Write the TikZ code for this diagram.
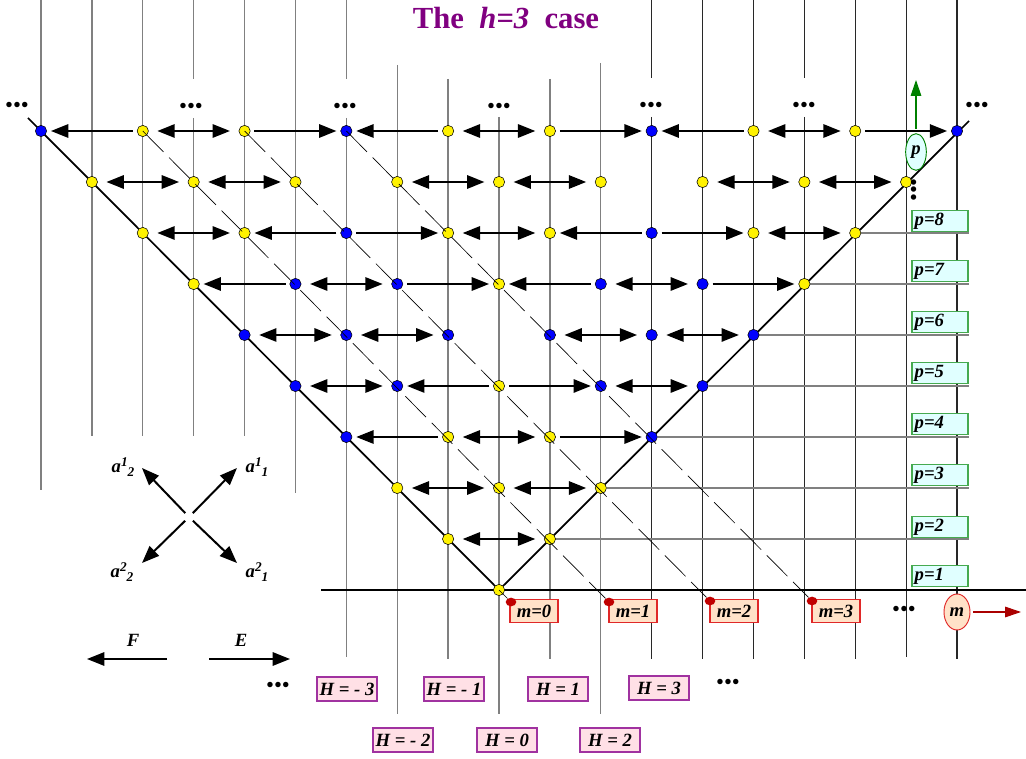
\documentclass[tikz,border=0pt]{standalone}
\usepackage{fontspec}
\setmainfont{Liberation Serif}
\usetikzlibrary{arrows.meta,shapes.geometric,backgrounds}
\definecolor{ttlpurple}{RGB}{128,0,128}
\definecolor{gridgray}{RGB}{128,128,128}
\definecolor{griddark}{RGB}{40,40,40}
\definecolor{pfill}{RGB}{224,255,255}
\definecolor{pborder}{RGB}{70,170,80}
\definecolor{pgreen}{RGB}{0,128,0}
\definecolor{mfill}{RGB}{255,226,200}
\definecolor{mborder}{RGB}{224,40,40}
\definecolor{hfill}{RGB}{255,224,230}
\definecolor{hborder}{RGB}{160,50,160}
\definecolor{dotred}{RGB}{192,0,0}
\definecolor{mred}{RGB}{170,0,0}
\newcommand{\ascr}[2]{a\raisebox{0.7ex}{\fontsize{10}{10}\selectfont #1}\raisebox{-0.5ex}{\fontsize{10}{10}\selectfont #2}}

\begin{document}
\begin{tikzpicture}[x=0.75pt,y=-0.75pt,
		ynode/.style={circle,draw=black,line width=0.4pt,fill=yellow,inner sep=0pt,minimum size=8.5pt},
		bnode/.style={ynode,fill=blue},
		sarr/.style={-{Triangle[length=13pt,width=10pt]},line width=1.5pt,shorten <=3pt,shorten >=3pt},
		darr/.style={{Triangle[length=13pt,width=10pt]}-{Triangle[length=13pt,width=10pt]},line width=1.5pt,shorten <=6.5pt,shorten >=6.5pt},
		lgrid/.style={draw=gridgray,line width=1pt},
		rgrid/.style={draw=griddark,line width=0.8pt},
		pline/.style={draw=gridgray,line width=1pt},
		arm/.style={line width=1.3pt},
		diag/.style={line width=0.5pt,dash pattern=on 22pt off 6pt},
		lbl/.style={font=\fontsize{14}{16}\selectfont\bfseries\itshape},
		pbox/.style={lbl,draw=pborder,fill=pfill,line width=0.8pt,inner xsep=2pt,inner ysep=0pt,text width=38pt,minimum height=16pt,align=left},
		mbox/.style={lbl,draw=mborder,fill=mfill,line width=0.8pt,inner sep=1pt,minimum width=36pt,minimum height=17pt},
		hbox/.style={lbl,draw=hborder,fill=hfill,line width=0.8pt,inner sep=1pt,minimum width=45pt,minimum height=18pt},
		reddot/.style={ellipse,fill=dotred,inner sep=0pt,minimum width=8pt,minimum height=6.5pt},
		pell/.style={lbl,ellipse,draw=pgreen,fill=pfill,line width=0.7pt,inner sep=0pt,minimum width=15.5pt,minimum height=27.5pt},
		mell/.style={lbl,ellipse,draw=mborder,fill=mfill,line width=0.7pt,inner sep=0pt,minimum width=19.5pt,minimum height=27pt},
		parr/.style={-{Triangle[length=12pt,width=8pt]},draw=pgreen,fill=pgreen,line width=0.8pt,shorten <=3.5pt},
		marr/.style={-{Triangle[length=12pt,width=8pt]},draw=mred,fill=mred,line width=0.8pt,shorten <=2pt},
		dotrow/.style={font=\fontsize{17}{17}\selectfont,inner sep=0pt},
		ttl/.style={font=\fontsize{23}{26}\selectfont\bfseries,text=ttlpurple},
	]
	\useasboundingbox (0,0) rectangle (1026,759);
	\foreach \r/\c in {0/0,0/6,0/12,0/18,2/6,2/12,3/5,3/7,3/11,3/13,4/4,4/6,4/8,4/10,4/12,4/14,5/5,5/7,5/11,5/13,6/6,6/12}
		\node[bnode] (n\r-\c) at ({41+50.89*\c},{131+51*\r}) {};
	\foreach \r/\c in {0/2,0/4,0/8,0/10,0/14,0/16,1/1,1/3,1/5,1/7,1/9,1/11,1/13,1/15,1/17,2/2,2/4,2/8,2/10,2/14,2/16,3/3,3/9,3/15,5/9,6/8,6/10,7/7,7/9,7/11,8/8,8/10,9/9}
		\node[ynode] (n\r-\c) at ({41+50.89*\c},{131+51*\r}) {};

	\node[ttl] (title) at (506,18) {The~~\textit{h=3}~~case};

	\node[pbox] (p8) at (940,221) {p=8};
	\node[pbox] (p7) at (940,271) {p=7};
	\node[pbox] (p6) at (940,322) {p=6};
	\node[pbox] (p5) at (940,373) {p=5};
	\node[pbox] (p4) at (940,424) {p=4};
	\node[pbox] (p3) at (940,475) {p=3};
	\node[pbox] (p2) at (940,527) {p=2};
	\node[pbox] (p1) at (940,576) {p=1};

	\node[mbox] (m0) at (534,611) {m=0};
	\node[mbox] (m1) at (633,611) {m=1};
	\node[mbox] (m2) at (734,611) {m=2};
	\node[mbox] (m3) at (836,611) {m=3};
	\node[reddot] (md0) at (511,602) {};
	\node[reddot] (md1) at (609,602) {};
	\node[reddot] (md2) at (710,601) {};
	\node[reddot] (md3) at (812,601) {};

	\node[hbox] (hm3) at (347,689) {H = - 3};
	\node[hbox] (hm2) at (403,740) {H = - 2};
	\node[hbox] (hm1) at (454,689) {H = - 1};
	\node[hbox] (h0) at (507,740) {H = 0};
	\node[hbox] (h1) at (558,689) {H = 1};
	\node[hbox] (h2) at (610,740) {H = 2};
	\node[hbox] (h3) at (659,688) {H = 3};

	\draw[diag] (n9-9.center) -- (md0);
	\draw[diag] (n0-2.center) -- (md1);
	\draw[diag] (n0-4.center) -- (md2);
	\draw[diag] (n0-6.center) -- (md3);

	\foreach \r/\a/\b in {0/2/0,0/4/6,0/8/6,0/10/12,0/14/12,0/16/18,2/6/4,2/6/8,2/12/10,2/12/14,3/5/3,3/7/9,3/11/9,3/13/15,5/9/7,5/9/11,6/8/6,6/10/12}
		\draw[sarr] (n\r-\a) -- (n\r-\b);
	\foreach \r/\a/\b in {0/2/4,0/8/10,0/14/16,1/1/3,1/3/5,1/7/9,1/9/11,1/13/15,1/15/17,2/2/4,2/8/10,2/14/16,3/5/7,3/11/13,4/4/6,4/6/8,4/10/12,4/12/14,5/5/7,5/11/13,6/8/10,7/7/9,7/9/11,8/8/10}
		\draw[darr] (n\r-\a) -- (n\r-\b);

	\node[pell] (pel) at (916,152) {p};
	\coordinate (ptip) at (916,80);
	\draw[parr] (pel) -- (ptip);
	\node[mell] (mel) at (957,612) {m};
	\coordinate (mtip) at (1021,612);
	\draw[marr] (mel) -- (mtip);

	\coordinate (ac) at (189,517);
	\coordinate (a12) at (142,468);
	\coordinate (a11) at (237,468);
	\coordinate (a22) at (142,563);
	\coordinate (a21) at (237,563);
	\draw[sarr,shorten >=0pt,shorten <=4pt] (ac) -- (a12);
	\draw[sarr,shorten >=0pt,shorten <=4pt] (ac) -- (a11);
	\draw[sarr,shorten >=0pt,shorten <=4pt] (ac) -- (a22);
	\draw[sarr,shorten >=0pt,shorten <=4pt] (ac) -- (a21);
	\node[lbl] (la12) at (123,467) {\ascr{1}{2}};
	\node[lbl] (la11) at (257,467) {\ascr{1}{1}};
	\node[lbl] (la22) at (122,572) {\ascr{2}{2}};
	\node[lbl] (la21) at (257,572) {\ascr{2}{1}};

	\coordinate (fs) at (167,659);
	\coordinate (fe) at (87,659);
	\coordinate (es) at (209,659);
	\coordinate (ee) at (290,659);
	\draw[sarr,shorten >=0pt,shorten <=0pt] (fs) -- (fe);
	\draw[sarr,shorten >=0pt,shorten <=0pt] (es) -- (ee);
	\node[lbl] (lf) at (133,640) {F};
	\node[lbl] (le) at (241,640) {E};

	\node[dotrow] (d1) at (17,107) {•••};
	\node[dotrow] (d2) at (191,108) {•••};
	\node[dotrow] (d3) at (345,108) {•••};
	\node[dotrow] (d4) at (499,108) {•••};
	\node[dotrow] (d5) at (651,107) {•••};
	\node[dotrow] (d6) at (804,107) {•••};
	\node[dotrow] (d7) at (977,107) {•••};
	\node[dotrow,rotate=90] (d8) at (916,190) {•••};
	\node[dotrow] (d9) at (904,611) {•••};
	\node[dotrow] (d10) at (278,687) {•••};
	\node[dotrow] (d11) at (728,684) {•••};

	\coordinate (lend) at (28,118);
	\coordinate (rend) at (969,121);
	\begin{scope}[on background layer]
		\foreach \c/\ya/\yb in {0/0/490,1/0/436,2/0/436,3/0/79,3/118/436,4/0/436,5/0/493,6/0/79,6/118/657,7/65/714,8/79/659,9/117/714,10/79/659,11/63/714}
			\draw[lgrid] ({41+50.89*\c},\ya) -- ({41+50.89*\c},\yb);
		\foreach \c/\ya/\yb in {12/0/78,12/117/659,13/0/659,14/0/659,15/0/78,15/117/659,16/0/659,17/0/657,18/0/659}
			\draw[rgrid] ({41+50.89*\c},\ya) -- ({41+50.89*\c},\yb);
		\foreach \r/\c/\p in {2/16/8,3/15/7,4/14/6,5/13/5,6/12/4,7/11/3,8/10/2}
			\draw[pline] (n\r-\c) -- (n\r-\c -| p\p.east);
		\draw[arm] (321,590) -- (1026,590);
		\draw[arm] (lend) -- (n9-9.center) -- (rend);
	\end{scope}
\end{tikzpicture}
\end{document}
